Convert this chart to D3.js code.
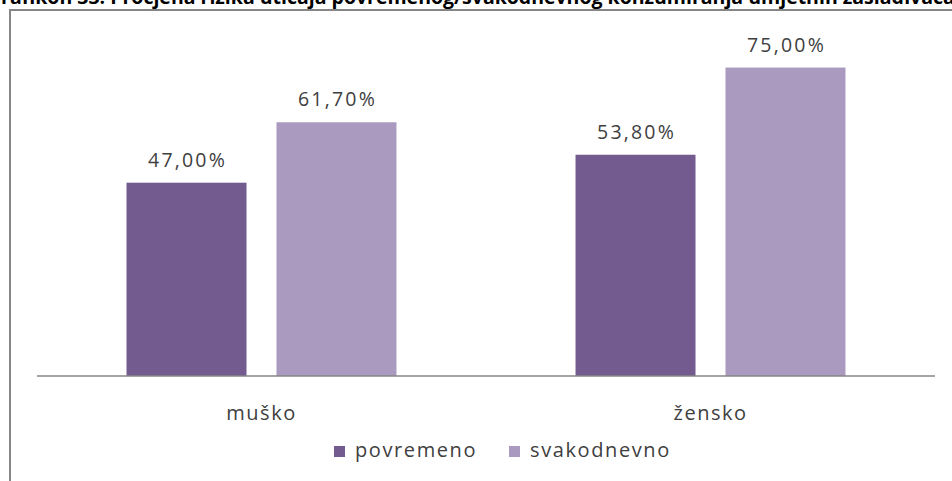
<!DOCTYPE html>
<html>
<head>
<meta charset="utf-8">
<script src="https://cdn.jsdelivr.net/npm/d3@7/dist/d3.min.js"></script>
<style>
  html, body { margin: 0; padding: 0; background: #fff; }
  svg { display: block; }
</style>
</head>
<body>
<svg id="chart" width="952" height="481"></svg>
<script>
// Chart data
const categories = ["muško", "žensko"];
const seriesNames = ["povremeno", "svakodnevno"];
const povremeno = [47.0, 53.8];
const svakodnevno = [61.7, 75.0];
const seriesColors = ["#735a8f", "#aa9abf"];
const titleText = "Grafikon 33: Procjena rizika uticaja povremenog/svakodnevnog konzumiranja umjetnih zaslađivača";

const values = [povremeno, svakodnevno];
const fmt = v => v.toFixed(2).replace(".", ",") + "%";

const svg = d3.select("#chart");
const font = "'Open Sans', 'Noto Sans', sans-serif";

// Title, running past the top edge of the page
svg.append("text")
  .attr("x", -13).attr("y", 4)
  .attr("font-family", font)
  .attr("font-weight", "bold")
  .attr("font-size", 19.5)
  .attr("fill", "#000")
  .text(titleText);

// Chart frame
svg.append("rect")
  .attr("x", 10).attr("y", 10)
  .attr("width", 960).attr("height", 500)
  .attr("fill", "#fff")
  .attr("stroke", "#868686")
  .attr("stroke-width", 2);

// Scales
const plot = { left: 37, right: 935, top: 47, bottom: 376 };
const x0 = d3.scaleBand().domain(categories).range([plot.left, plot.right]).padding(0);
const x1 = d3.scaleBand().domain(seriesNames).range([0, x0.bandwidth()])
  .paddingInner(0.2).paddingOuter(0.597);
const y = d3.scaleLinear().domain([0, 80]).range([plot.bottom, plot.top]);

// Bars and value labels
const rows = [];
categories.forEach((c, ci) => {
  seriesNames.forEach((s, si) => {
    rows.push({ cat: c, series: s, value: values[si][ci], color: seriesColors[si] });
  });
});

const g = svg.append("g");
g.selectAll("rect.bar")
  .data(rows)
  .join("rect")
  .attr("class", "bar")
  .attr("x", d => x0(d.cat) + x1(d.series))
  .attr("y", d => y(d.value))
  .attr("width", x1.bandwidth())
  .attr("height", d => y(0) - y(d.value))
  .attr("fill", d => d.color);

g.selectAll("text.val")
  .data(rows)
  .join("text")
  .attr("class", "val")
  .attr("x", d => x0(d.cat) + x1(d.series) + x1.bandwidth() / 2 + 1)
  .attr("y", d => y(d.value) - 16)
  .attr("text-anchor", "middle")
  .attr("font-family", font)
  .attr("font-size", 19.5)
  .attr("letter-spacing", 2.2)
  .attr("fill", "#404040")
  .text(d => fmt(d.value));

// Category axis
const xAxis = svg.append("g")
  .attr("transform", `translate(0,${plot.bottom})`)
  .call(d3.axisBottom(x0).tickSize(0).tickPadding(0));
xAxis.select(".domain").attr("stroke", "#868686").attr("stroke-width", 1.5)
  .attr("d", `M${plot.left},0H${plot.right}`);
xAxis.selectAll(".tick text")
  .attr("y", 44)
  .attr("dy", 0)
  .attr("font-family", font)
  .attr("font-size", 20)
  .attr("letter-spacing", 1.5)
  .attr("fill", "#404040");

// Legend
const legendPos = [{ sx: 334, tx: 355 }, { sx: 509, tx: 530 }];
const legend = svg.append("g");
seriesNames.forEach((s, i) => {
  legend.append("rect")
    .attr("x", legendPos[i].sx).attr("y", 446)
    .attr("width", 11).attr("height", 11)
    .attr("fill", seriesColors[i]);
  legend.append("text")
    .attr("x", legendPos[i].tx).attr("y", 457)
    .attr("font-family", font)
    .attr("font-size", 20)
    .attr("letter-spacing", 1.6)
    .attr("fill", "#404040")
    .text(s);
});
</script>
</body>
</html>
